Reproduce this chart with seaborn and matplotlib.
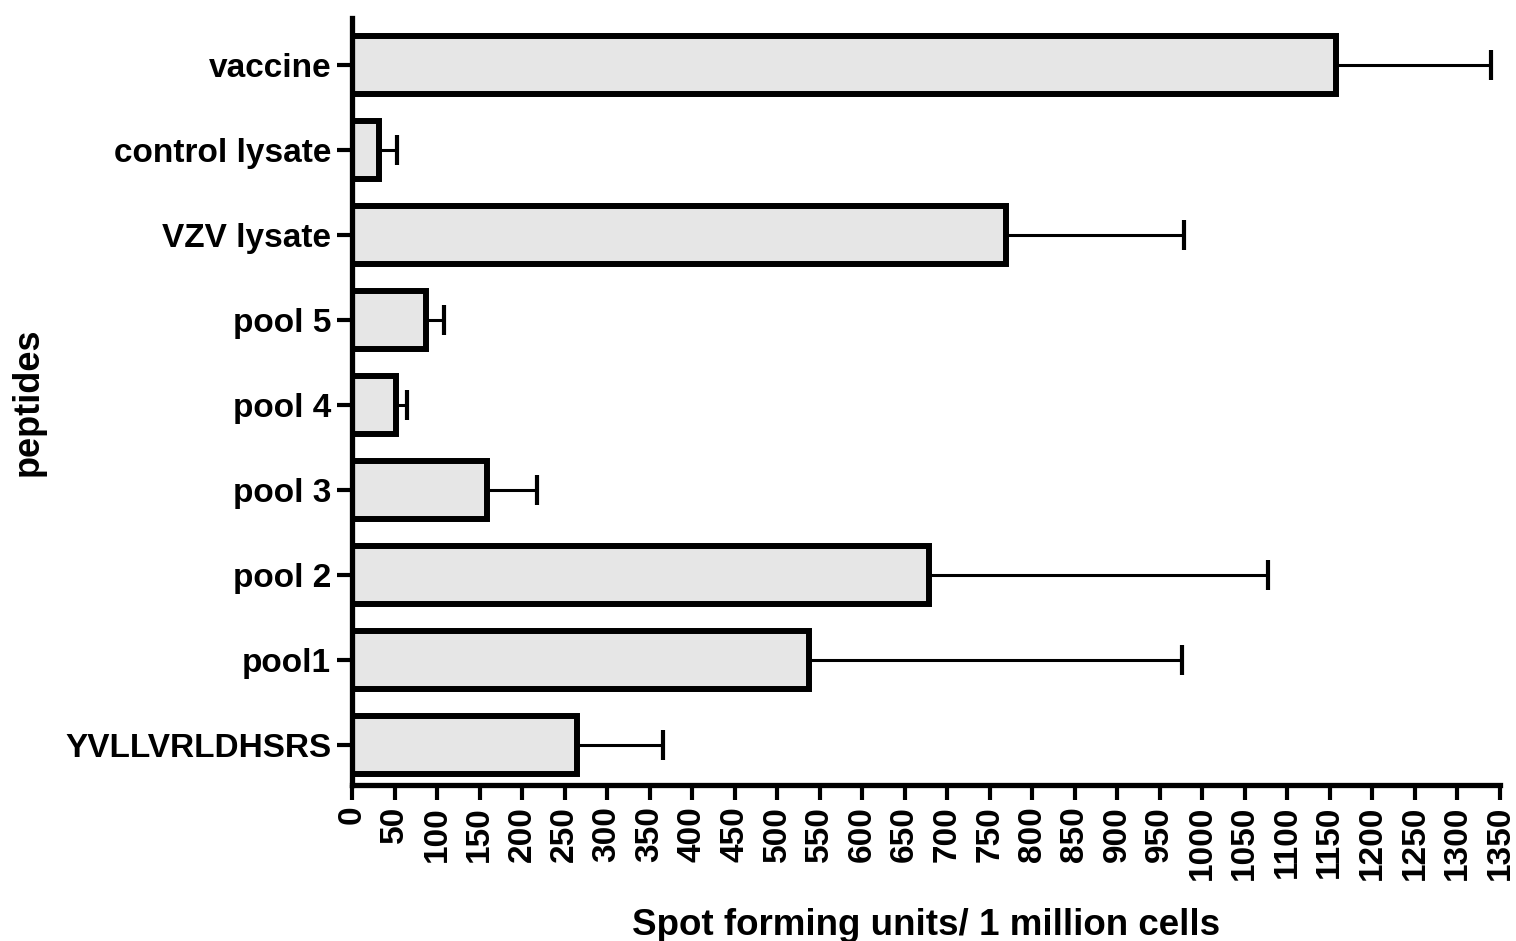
import matplotlib
matplotlib.use("Agg")
import matplotlib.pyplot as plt
import seaborn as sns
import numpy as np
import pandas as pd

# Spot forming units per 1 million cells, mean and upper error (SEM)
peptides = ["vaccine", "control lysate", "VZV lysate", "pool 5", "pool 4",
            "pool 3", "pool 2", "pool1", "YVLLVRLDHSRS"]
sfu_mean = [1157, 32, 769, 87, 52, 159, 678, 537, 265]
sfu_err = [183, 21, 209, 21, 13, 58, 399, 439, 101]

x_ticks = list(range(0, 1351, 50))

sns.set_theme(style="ticks")
plt.rcParams["font.family"] = ["Liberation Sans", "DejaVu Sans"]
plt.rcParams["font.weight"] = "bold"
plt.rcParams["text.color"] = "black"
plt.rcParams["axes.labelcolor"] = "black"
plt.rcParams["xtick.color"] = "black"
plt.rcParams["ytick.color"] = "black"

df = pd.DataFrame({"peptide": peptides, "sfu": sfu_mean, "err": sfu_err})

fig = plt.figure(figsize=(15.16, 9.41), dpi=100)
ax = fig.add_axes([0.2322, 0.1658, 0.9894 - 0.2322, 0.981 - 0.1658])

sns.barplot(data=df, x="sfu", y="peptide", orient="h", ax=ax,
            color="#e6e6e6", edgecolor="black", linewidth=4.3,
            width=0.68, errorbar=None, saturation=1)

ypos = np.arange(len(peptides))
ax.errorbar(df["sfu"], ypos, xerr=[np.zeros(len(peptides)), df["err"]],
            fmt="none", ecolor="black", elinewidth=2.2, capsize=11,
            capthick=3, zorder=1)

ax.set_xlim(0, 1350)
ax.set_ylim(8.47, -0.55)
ax.set_xticks(x_ticks)
ax.set_xticklabels([str(v) for v in x_ticks], rotation=90, fontsize=24,
                   fontweight="bold")
ax.set_yticks(ypos)
ax.set_yticklabels(peptides, fontsize=24, fontweight="bold")

for side in ("top", "right"):
    ax.spines[side].set_visible(False)
for side in ("left", "bottom"):
    ax.spines[side].set_linewidth(3.8)
    ax.spines[side].set_color("black")

ax.tick_params(axis="both", length=11, width=3, color="black", pad=4,
               labelcolor="black")

ax.set_xlabel("Spot forming units/ 1 million cells", fontsize=26.5,
              fontweight="bold", labelpad=20)
ax.set_ylabel("peptides", fontsize=26, fontweight="bold", labelpad=14)

fig.savefig("out.png", dpi=100, facecolor="white")
